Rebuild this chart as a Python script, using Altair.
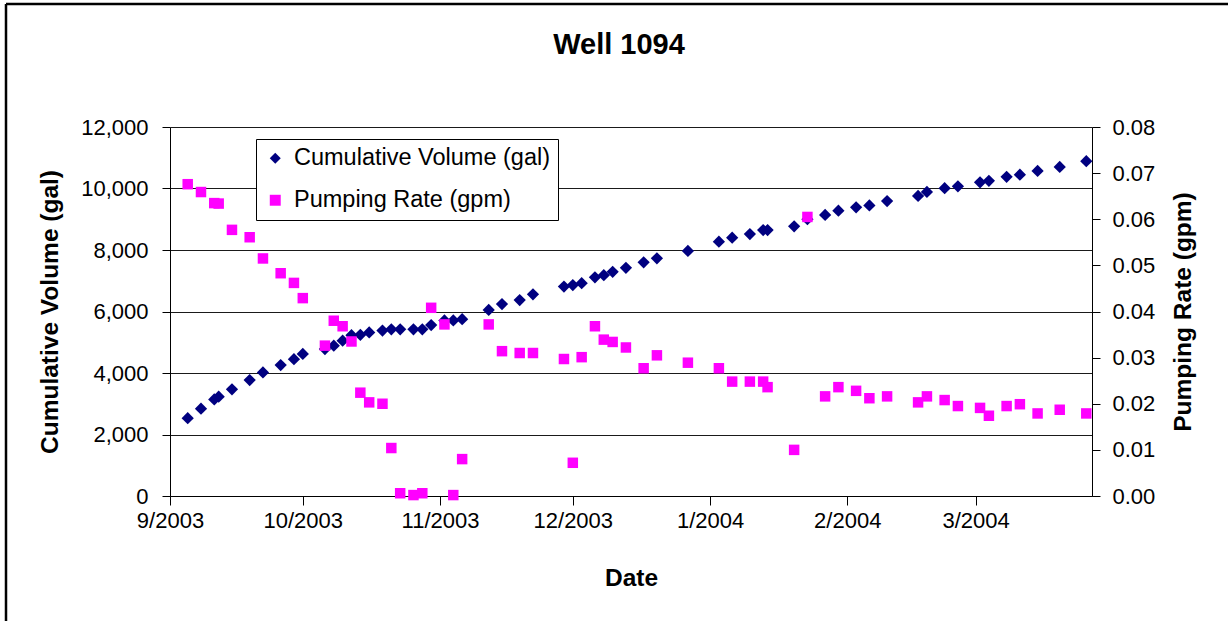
import altair as alt
import pandas as pd

# ---- data ----
dates = [
    "2003-09-05", "2003-09-08", "2003-09-11", "2003-09-12", "2003-09-15",
    "2003-09-19", "2003-09-22", "2003-09-26", "2003-09-29", "2003-10-01",
    "2003-10-06", "2003-10-08", "2003-10-10", "2003-10-12", "2003-10-14",
    "2003-10-16", "2003-10-19", "2003-10-21", "2003-10-23", "2003-10-26",
    "2003-10-28", "2003-10-30", "2003-11-02", "2003-11-04", "2003-11-06",
    "2003-11-12", "2003-11-15", "2003-11-19", "2003-11-22", "2003-11-29",
    "2003-12-01", "2003-12-03", "2003-12-06", "2003-12-08", "2003-12-10",
    "2003-12-13", "2003-12-17", "2003-12-20", "2003-12-27", "2004-01-03",
    "2004-01-06", "2004-01-10", "2004-01-13", "2004-01-14", "2004-01-20",
    "2004-01-23", "2004-01-27", "2004-01-30", "2004-02-03", "2004-02-06",
    "2004-02-10", "2004-02-17", "2004-02-19", "2004-02-23", "2004-02-26",
    "2004-03-02", "2004-03-04", "2004-03-08", "2004-03-11", "2004-03-15",
    "2004-03-20", "2004-03-26",
]
volume = [
    2530, 2840, 3140, 3230, 3470,
    3770, 4020, 4260, 4450, 4620,
    4780, 4890, 5050, 5230, 5240,
    5320, 5380, 5420, 5420, 5420,
    5420, 5560, 5710, 5710, 5750,
    6050, 6240, 6370, 6560, 6810,
    6860, 6920, 7110, 7180, 7290,
    7420, 7600, 7730, 7970, 8270,
    8400, 8520, 8650, 8650, 8770,
    9000, 9140, 9280, 9390, 9450,
    9590, 9760, 9890, 10010, 10070,
    10200, 10250, 10380, 10450, 10570,
    10700, 10890,
]
rate = [
    0.0676, 0.0659, 0.0635, 0.0634, 0.0577,
    0.0561, 0.0515, 0.0483, 0.0462, 0.0429,
    0.0326, 0.0380, 0.0368, 0.0335, 0.0224,
    0.0203, 0.0200, 0.0104, 0.0006, 0.0002,
    0.0006, 0.0408, 0.0372, 0.0002, 0.0080,
    0.0372, 0.0314, 0.0310, 0.0310, 0.0297,
    0.0072, 0.0301, 0.0368, 0.0339, 0.0334,
    0.0322, 0.0277, 0.0305, 0.0289, 0.0277,
    0.0248, 0.0248, 0.0248, 0.0236, 0.0100,
    0.0605, 0.0216, 0.0236, 0.0228, 0.0212,
    0.0216, 0.0203, 0.0216, 0.0208, 0.0195,
    0.0191, 0.0174, 0.0195, 0.0199, 0.0179,
    0.0187, 0.0179,
]
series_names = ["Cumulative Volume (gal)", "Pumping Rate (gpm)"]
series_colors = ["#000080", "#FF00FF"]
series_shapes = ["diamond", "square"]
volume_ticks = [0, 2000, 4000, 6000, 8000, 10000, 12000]
rate_ticks = [0.0, 0.01, 0.02, 0.03, 0.04, 0.05, 0.06, 0.07, 0.08]
month_ticks = [(2003, 9), (2003, 10), (2003, 11), (2003, 12), (2004, 1), (2004, 2), (2004, 3)]

df = pd.DataFrame({
    "date": [d + "T00:00:00" for d in dates],
    "volume": volume,
    "rate": rate,
})

FONT = "Liberation Sans"

color_scale = alt.Scale(domain=series_names, range=series_colors)
shape_scale = alt.Scale(domain=series_names, range=series_shapes)
legend = alt.Legend(
    title=None, orient="none", legendX=86, legendY=12,
    fillColor="white", strokeColor="black",
    padding=7.5, rowPadding=17, labelOffset=7, labelLimit=500,
    labelFont=FONT, labelFontSize=23.5, labelColor="black",
    symbolSize=120, symbolStrokeWidth=0,
)

x_enc = alt.X(
    "date:T",
    scale=alt.Scale(domain=[alt.DateTime(year=2003, month=9, date=1),
                            alt.DateTime(year=2004, month=3, date=27, hours=7)]),
    axis=alt.Axis(
        values=[alt.DateTime(year=y, month=m, date=1) for y, m in month_ticks],
        format="%-m/%Y", title="Date", labelFlush=False,
        tickSize=9, labelPadding=5, titlePadding=35, grid=False,
    ),
)

base = alt.Chart(df)

vol_layer = base.transform_calculate(series="'Cumulative Volume (gal)'").mark_point(
    filled=True, size=150, opacity=1
).encode(
    x=x_enc,
    y=alt.Y("volume:Q", scale=alt.Scale(domain=[0, 12000]),
            axis=alt.Axis(values=volume_ticks, format=",.0f", title="Cumulative Volume (gal)",
                          orient="left", grid=True, gridColor="#1a1a1a", gridWidth=1,
                          tickSize=8, labelPadding=14, titlePadding=18, labelFlush=False)),
    color=alt.Color("series:N", scale=color_scale, legend=legend),
    shape=alt.Shape("series:N", scale=shape_scale, legend=legend),
)

rate_layer = base.transform_calculate(series="'Pumping Rate (gpm)'").mark_point(
    filled=True, size=110, opacity=1
).encode(
    x=x_enc,
    y=alt.Y("rate:Q", scale=alt.Scale(domain=[0, 0.08]),
            axis=alt.Axis(values=rate_ticks, format=".2f", title="Pumping Rate (gpm)",
                          orient="right", grid=False, tickSize=8, labelPadding=12,
                          titlePadding=17, titleAngle=-90, titleBaseline="top",
                          labelFlush=False)),
    color=alt.Color("series:N", scale=color_scale, legend=legend),
    shape=alt.Shape("series:N", scale=shape_scale, legend=legend),
)

frame_data = alt.Chart(pd.DataFrame({"k": [0]}))
frame_left = frame_data.mark_rule(color="black", strokeWidth=2.5).encode(
    x=alt.value(-164), y=alt.value(-123), y2=alt.value(500)
)
frame_top = frame_data.mark_rule(color="black", strokeWidth=2.5).encode(
    x=alt.value(-164), x2=alt.value(1060), y=alt.value(-123)
)

chart = alt.layer(vol_layer, rate_layer, frame_left, frame_top).resolve_scale(
    y="independent"
).properties(
    width=922, height=369,
    title=alt.TitleParams("Well 1094", font=FONT, fontSize=29, fontWeight="bold",
                          color="black", anchor="middle", dx=-12, offset=-57),
    autosize=alt.AutoSizeParams(type="none"),
    padding={"left": 170, "top": 127, "right": 136, "bottom": 125},
    background="white",
).configure_view(strokeWidth=0).configure_axis(
    labelFont=FONT, titleFont=FONT, labelFontSize=22, titleFontSize=24.5,
    titleFontWeight="bold", labelColor="black", titleColor="black",
    domainColor="black", tickColor="black", domainWidth=1, tickWidth=1,
)

chart.save("out.html", embed_options={"renderer": "svg", "actions": False})
